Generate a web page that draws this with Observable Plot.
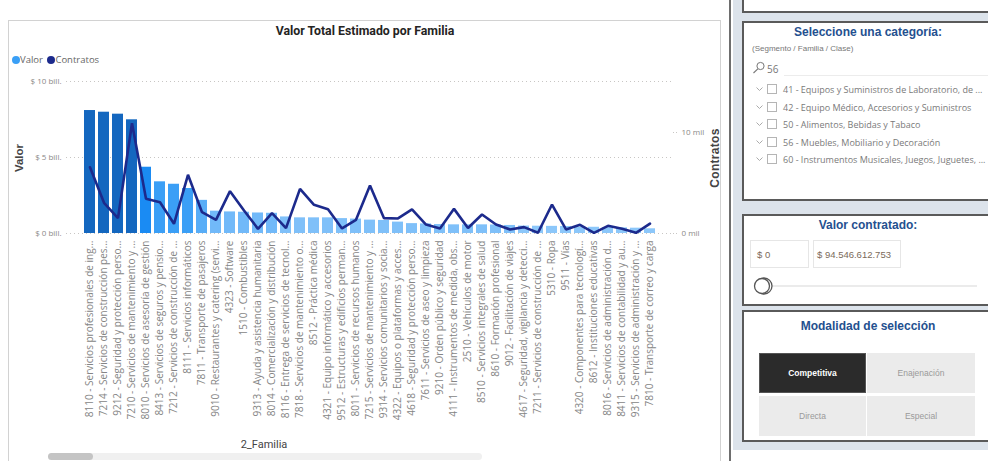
<!DOCTYPE html>
<html><head><meta charset="utf-8">
<script src="https://cdn.jsdelivr.net/npm/d3@7"></script>
<script src="https://cdn.jsdelivr.net/npm/@observablehq/plot@0.6"></script>
<style>
html,body{margin:0;padding:0;background:#fff;width:988px;height:461px;overflow:hidden;font-family:"Liberation Sans",Arial,sans-serif;}
#page{position:relative;width:988px;height:461px;overflow:hidden;}
.abs{position:absolute;}
.box{position:absolute;left:742px;width:252px;background:#fff;border:2px solid #5a5a5a;box-sizing:border-box;}
.ptitle{position:absolute;left:0;width:100%;text-align:center;font-weight:bold;font-size:12px;color:#24508f;}
.item{position:absolute;left:12px;font-size:9px;color:#7a7a7a;white-space:nowrap;font-family:"Open Sans","Noto Sans",sans-serif;}
.cb{display:inline-block;width:8px;height:8px;border:1px solid #b5b5b5;vertical-align:-1px;margin:0 6px 0 4px;}
.btn{position:absolute;display:flex;align-items:center;justify-content:center;font-size:8.5px;box-sizing:border-box;}
</style></head><body>
<div id="page">
  <div id="chart" class="abs" style="left:0;top:0;"></div>
  <div class="abs" style="left:8px;top:20px;width:713px;height:460px;border:1px solid #d2d2d2;box-sizing:border-box;pointer-events:none;"></div>
  <div class="abs" style="left:8px;top:24px;width:714px;text-align:center;font-family:Roboto,sans-serif;font-weight:bold;font-size:12.3px;color:#252423;">Valor Total Estimado por Familia</div>
  <div class="abs" style="left:12px;top:53px;font-family:'Open Sans','Noto Sans',sans-serif;font-size:9.5px;color:#666;white-space:nowrap;">
    <span style="display:inline-block;width:8px;height:8px;border-radius:50%;background:#3a9ff6;vertical-align:-1px;"></span><span>Valor</span>
    <span style="display:inline-block;width:8px;height:8px;border-radius:50%;background:#1c2a8c;vertical-align:-1px;margin-left:2px;"></span><span>Contratos</span>
  </div>
  <div class="abs" style="left:19px;top:158px;transform:translate(-50%,-50%) rotate(-90deg);font-weight:bold;font-size:11.5px;color:#444;">Valor</div>
  <div class="abs" style="left:715px;top:158px;transform:translate(-50%,-50%) rotate(-90deg);font-weight:bold;font-size:12px;color:#444;letter-spacing:0.3px;">Contratos</div>
  <div class="abs" style="left:264px;top:445px;transform:translate(-50%,-50%);font-family:Roboto,sans-serif;font-size:11px;line-height:14px;color:#444;">2_Familia</div>
  <div class="abs" style="left:48px;top:453px;width:434px;height:7px;background:#f0f0f0;border-radius:4px;"></div>
  <div class="abs" style="left:48px;top:453px;width:45px;height:7px;background:#c4c4c4;border-radius:4px;"></div>

  <!-- right panel -->
  <div class="abs" style="left:733px;top:0;width:255px;height:450px;background:#dce3eb;"></div>
  <div class="abs" style="left:729px;top:0;width:2px;height:461px;background:#6e6e6e;"></div>
  <div class="box" style="top:-10px;height:23px;"></div>
  <div class="box" style="top:21px;height:180px;">
    <div class="ptitle" style="top:2px;">Seleccione una categoría:</div>
    <div class="abs" style="left:8px;top:21px;font-size:8px;color:#777;">(Segmento / Familia / Clase)</div>
    <svg class="abs" style="left:8px;top:38px;" width="14" height="14"><circle cx="8.5" cy="5" r="3.6" fill="none" stroke="#777" stroke-width="1"/><line x1="5.8" y1="7.8" x2="1.5" y2="12" stroke="#777" stroke-width="1.1"/></svg>
    <div class="abs" style="left:23px;top:39px;font-size:10px;color:#777;font-family:'Open Sans','Noto Sans',sans-serif;">56</div>
    <div class="abs" style="left:40px;top:52px;width:220px;height:1px;background:#ececec;"></div>
    <div id="items"></div>
  </div>
  <div class="box" style="top:214px;height:92px;">
    <div class="ptitle" style="top:2px;">Valor contratado:</div>
    <div class="abs" style="left:6px;top:24px;width:59px;height:28px;border:1px solid #e6e6e6;box-sizing:border-box;font-size:9.5px;color:#7a6a5a;padding:8px 0 0 6px;">$ 0</div>
    <div class="abs" style="left:69px;top:24px;width:88px;height:28px;border:1px solid #e6e6e6;box-sizing:border-box;font-size:9.5px;color:#7a6a5a;padding:8px 0 0 3px;white-space:nowrap;">$ 94.546.612.753</div>
    <div class="abs" style="left:28px;top:69px;width:205px;height:2px;background:#ebebeb;"></div>
    <svg class="abs" style="left:9px;top:59px;" width="22" height="22"><circle cx="11" cy="11" r="8" fill="#fff" stroke="#555" stroke-width="1.3"/><circle cx="9" cy="11" r="7.5" fill="#fff" stroke="#555" stroke-width="1.3"/></svg>
  </div>
  <div class="box" style="top:310px;height:132px;">
    <div class="ptitle" style="top:7px;">Modalidad de selección</div>
    <div class="btn" style="left:15px;top:41px;width:107px;height:40px;background:#2b2b2b;border:1px solid #555;color:#fff;font-weight:bold;">Competitiva</div>
    <div class="btn" style="left:123px;top:41px;width:108px;height:40px;background:#ebebeb;color:#9a9a9a;">Enajenación</div>
    <div class="btn" style="left:15px;top:84px;width:107px;height:40px;background:#ebebeb;color:#9a9a9a;">Directa</div>
    <div class="btn" style="left:123px;top:84px;width:108px;height:40px;background:#ebebeb;color:#9a9a9a;">Especial</div>
  </div>
</div>
<script>
// ---- data ----
const categorias = [
  "8110 - Servicios profesionales de ing...",
  "7214 - Servicios de construcción pes...",
  "9212 - Seguridad y protección perso...",
  "7210 - Servicios de mantenimiento y ...",
  "8010 - Servicios de asesoría de gestión",
  "8413 - Servicios de seguros y pensio...",
  "7212 - Servicios de construcción de ...",
  "8111 - Servicios informáticos",
  "7811 - Transporte de pasajeros",
  "9010 - Restaurantes y catering (servi...",
  "4323 - Software",
  "1510 - Combustibles",
  "9313 - Ayuda y asistencia humanitaria",
  "8014 - Comercialización y distribución",
  "8116 - Entrega de servicios de tecnol...",
  "7818 - Servicios de mantenimiento o...",
  "8512 - Práctica médica",
  "4321 - Equipo informático y accesorios",
  "9512 - Estructuras y edificios perman...",
  "8011 - Servicios de recursos humanos",
  "7215 - Servicios de mantenimiento y ...",
  "9314 - Servicios comunitarios y socia...",
  "4322 - Equipos o plataformas y acces...",
  "4618 - Seguridad y protección perso...",
  "7611 - Servicios de aseo y limpieza",
  "9210 - Orden público y seguridad",
  "4111 - Instrumentos de medida, obs...",
  "2510 - Vehículos de motor",
  "8510 - Servicios integrales de salud",
  "8610 - Formación profesional",
  "9012 - Facilitación de viajes",
  "4617 - Seguridad, vigilancia y detecci...",
  "7211 - Servicios de construcción de ...",
  "5310 - Ropa",
  "9511 - Vías",
  "4320 - Componentes para tecnologí...",
  "8612 - Instituciones educativas",
  "8016 - Servicios de administración d...",
  "8411 - Servicios de contabilidad y au...",
  "9315 - Servicios de administración y ...",
  "7810 - Transporte de correo y carga"
];
// Valor (billones de $)
const valor = [8.09, 7.98, 7.85, 7.48, 4.36, 3.40, 3.24, 2.96, 2.18, 1.47, 1.42, 1.40, 1.35, 1.33, 1.09, 1.03, 1.03, 1.03, 0.98, 0.95, 0.88, 0.86, 0.75, 0.65, 0.63, 0.59, 0.57, 0.57, 0.57, 0.56, 0.53, 0.49, 0.48, 0.47, 0.46, 0.42, 0.41, 0.39, 0.37, 0.35, 0.31];
// Contratos (miles)
const contratos = [6.56, 3.04, 1.52, 10.92, 3.43, 3.10, 0.96, 5.81, 2.11, 1.35, 4.19, 2.28, 0.46, 2.01, 0.53, 4.42, 2.84, 2.41, 0.50, 1.35, 4.75, 1.52, 1.49, 2.38, 0.89, 0.50, 2.44, 0.55, 1.88, 0.89, 0.40, 0.63, 0.07, 2.87, 0.40, 0.86, 0.07, 0.76, 0.46, 0.07, 0.98];
const valorTicks = [0, 5, 10];
const valorTickLabels = ["$ 0 bill.", "$ 5 bill.", "$ 10 bill."];
const contratosTicks = [0, 10];
const contratosTickLabels = ["0 mil", "10 mil"];
const colorBreaks = [0.5, 1.2, 2, 2.6, 4, 6];
const colorRange = ["#8cc7fa", "#7fc0f9", "#71b9f9", "#58adf7", "#3b9ff6", "#1a8bf3", "#1467bf"];
const listaCategorias = [
  "41 - Equipos y Suministros de Laboratorio, de ...",
  "42 - Equipo Médico, Accesorios y Suministros",
  "50 - Alimentos, Bebidas y Tabaco",
  "56 - Muebles, Mobiliario y Decoración",
  "60 - Instrumentos Musicales, Juegos, Juguetes, ..."
];

// secondary axis: miles of contratos mapped onto the primary (bill.) scale
const k = 10 / 15.05;
const data = categorias.map((c, i) => ({c, v: valor[i], n: contratos[i]}));
const font = "'Open Sans','Noto Sans',sans-serif";

const chart = Plot.plot({
  width: 730, height: 461,
  marginLeft: 66, marginRight: 58, marginTop: 81, marginBottom: 228,
  style: {background: "transparent", fontFamily: font},
  x: {type: "band", domain: categorias, range: [70.7, 669.3], paddingInner: 0.2, paddingOuter: 0.1},
  y: {domain: [0, 10]},
  color: {type: "threshold", domain: colorBreaks, range: colorRange},
  marks: [
    Plot.ruleY(valorTicks, {stroke: "#c8c6c4", strokeDasharray: "1,3"}),
    Plot.barY(data, {x: "c", y: "v", fill: "v"}),
    Plot.line(data, {x: "c", y: d => d.n * k, stroke: "#1c2a8c", strokeWidth: 2.6, strokeLinejoin: "miter"}),
    Plot.axisY(valorTicks, {anchor: "left", tickSize: 0, tickPadding: 5, tickFormat: (d, i) => valorTickLabels[i], fontSize: 8, fill: "#8a8886", label: null}),
    Plot.axisY(contratosTicks.map(t => t * k), {anchor: "right", tickSize: 6, tickPadding: 3, stroke: "#c8c6c4", strokeDasharray: "1,2", tickFormat: (d, i) => contratosTickLabels[i], fontSize: 8, fill: "#8a8886", label: null}),
    Plot.axisX({anchor: "bottom", tickSize: 0, tickPadding: 7, tickRotate: -90, fontSize: 10, fill: "#858585", label: null})
  ]
});
document.getElementById("chart").appendChild(chart);

// slicer items
const itemsDiv = document.getElementById("items");
listaCategorias.forEach((t, i) => {
  const d = document.createElement("div");
  d.className = "item";
  d.style.top = (60 + i * 17.6) + "px";
  d.innerHTML = '<svg width="7" height="5" style="vertical-align:1px"><polyline points="0.5,0.5 3.5,3.5 6.5,0.5" fill="none" stroke="#aaa" stroke-width="1"/></svg><span class="cb"></span>';
  d.appendChild(document.createTextNode(t));
  itemsDiv.appendChild(d);
});
</script>
</body></html>
